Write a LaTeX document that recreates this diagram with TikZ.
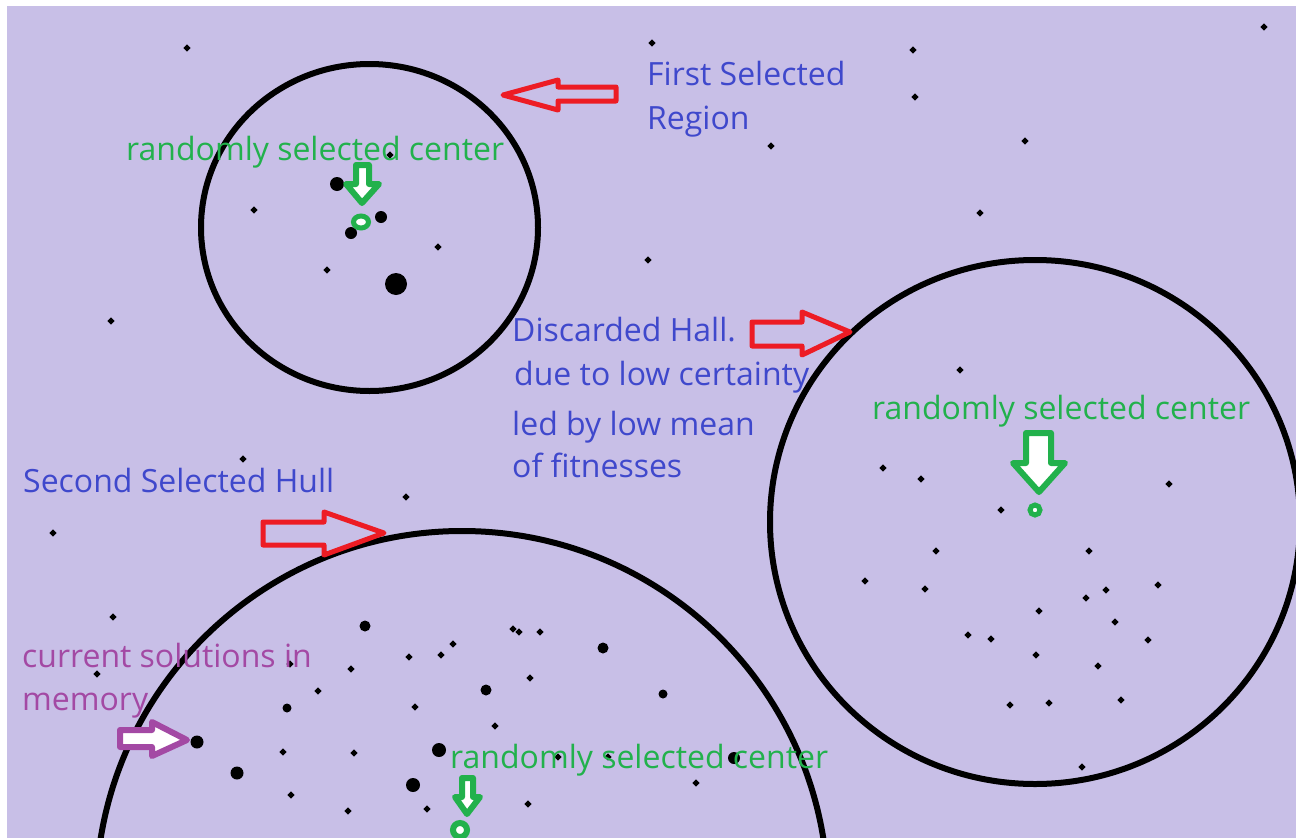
\documentclass[tikz,border=0pt]{standalone}
\usepackage{fontspec}
\setmainfont{Open Sans}
\definecolor{lav}{HTML}{C8BFE7}
\definecolor{pblue}{HTML}{3F48CC}
\definecolor{pgreen}{HTML}{22B14C}
\definecolor{pred}{HTML}{ED1C24}
\definecolor{ppurple}{HTML}{A349A4}
\begin{document}
\begin{tikzpicture}[x=1pt,y=-1pt,
  lbl/.style={anchor=base west,inner sep=0pt,font=\fontsize{32}{44}\selectfont},
  bluetext/.style={lbl,text=pblue},
  greentext/.style={lbl,text=pgreen},
  purpletext/.style={lbl,text=ppurple},
  hull/.style={draw=black,line width=6pt},
  redarrow/.style={draw=pred,line width=5pt,line join=round},
  greenarrow/.style={draw=pgreen,fill=white,line width=6pt,line join=round},
  purplearrow/.style={draw=ppurple,fill=white,line width=6pt,line join=round},
  centermark/.style={draw=pgreen,fill=white,line width=5pt}]
\useasboundingbox (0,0) rectangle (1296,838);
\fill[white] (0,0) rectangle (1296,838);
\fill[lav] (7,6) rectangle (1296,838);
\clip (7,6) rectangle (1296,838);
% hulls
\draw[hull] (369.5,227.5) ellipse [x radius=168.5, y radius=163.5];
\draw[hull] (1035,522) ellipse [x radius=265, y radius=262];
\draw[hull] (462,897) circle [radius=366];
% small dots
\foreach \x/\y in {187/48,652/43,913/50,1264/27,915/97,771/146,1025/141,980/213,648/260,111/321,
  438/247,327/270,254/210,390/155,960/370,243/459,406/497,53/533,113/617,97/674,
  513/629,519/632,540/632,453/644,409/657,441/655,351/669,290/664,530/678,318/691,415/707,
  495/726,283/752,354/753,291/795,348/811,427/809,528/804,558/757,608/757,696/783,
  883/468,921/479,1169/484,1001/510,936/551,1089/551,865/581,925/589,1158/585,1106/590,
  1086/598,1039/611,1115/622,968/635,991/639,1148/640,1036/655,1098/666,1010/705,1049/703,
  1121/700,1082/767}
  \fill (\x,\y) +(-3.6,0) -- +(0,-3.6) -- +(3.6,0) -- +(0,3.6) -- cycle;
% blobs
\foreach \x/\y/\r in {337/184/7,381/217/6,351/233/6,396/284/11,365/626/5.5,603/648/5.5,
  486/690/5.5,663/694/4.5,287/708/4.5,197/742/6.5,439/750/7,237/773/6.5,413/785/7,734/758/6}
  \fill (\x,\y) circle [radius=\r];
% red arrows
\draw[redarrow] (503,95) -- (558,80) -- (558,87) -- (616,87) -- (616,101) -- (558,101) -- (558,110) -- cycle;
\draw[redarrow] (850,332) -- (802,312) -- (802,322) -- (752,322) -- (752,346) -- (802,346) -- (802,355) -- cycle;
\draw[redarrow] (384,533) -- (324,512) -- (324,522) -- (263,522) -- (263,545) -- (324,545) -- (324,555) -- cycle;
% purple arrow
\draw[purplearrow] (187,740) -- (152,722) -- (152,730) -- (120,730) -- (120,747) -- (152,747) -- (152,756) -- cycle;
% green arrows and centres
\draw[greenarrow] (362,203) -- (346,184) -- (356,184) -- (356,165) -- (369,165) -- (369,184) -- (379,184) -- cycle;
\draw[greenarrow] (1039,492) -- (1013,463) -- (1026,463) -- (1026,433) -- (1051,433) -- (1051,463) -- (1065,463) -- cycle;
\draw[greenarrow] (467,814) -- (455,797) -- (462,797) -- (462,778) -- (473,778) -- (473,797) -- (480,797) -- cycle;
\draw[centermark] (361,222) ellipse [x radius=7.5, y radius=6];
\draw[centermark] (1035,510) circle [radius=5];
\draw[centermark,line width=6pt] (460,830) circle [radius=7];
% labels
\node[bluetext] (first1) at (647,85) {First Selected};
\node[bluetext] (first2) at (647,129) {Region};
\node[greentext] (rc1) at (126,160) {randomly selected center};
\node[bluetext] (disc1) at (512,341) {Discarded Hall.};
\node[bluetext] (disc2) at (514,385) {due to low certainty};
\node[bluetext] (disc3) at (512,435) {led by low mean};
\node[bluetext] (disc4) at (512,477) {of fitnesses};
\node[greentext] (rc2) at (872,419) {randomly selected center};
\node[bluetext] (second) at (23,492) {Second Selected Hull};
\node[purpletext] (cur1) at (22,667) {current solutions in};
\node[purpletext] (cur2) at (22,710) {memory};
\node[greentext] (rc3) at (450,768) {randomly selected center};
\end{tikzpicture}
\end{document}
